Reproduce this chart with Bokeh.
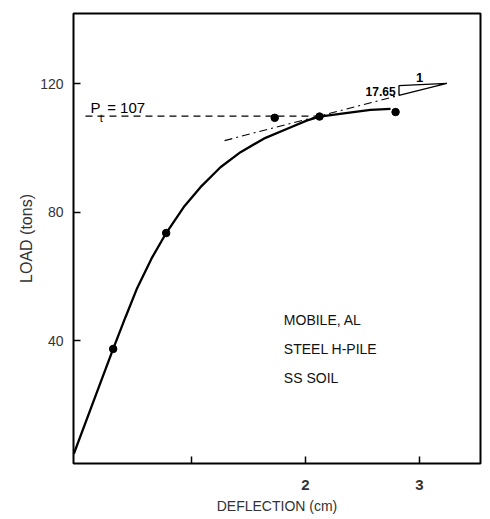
from bokeh.plotting import figure
from bokeh.models import Range1d, FixedTicker, ColumnDataSource
from bokeh.core.properties import value
from bokeh.embed import file_html
from bokeh.resources import INLINE

# measured load test points (deflection cm, load tons)
test_defl = [0.313, 0.778, 1.73, 2.123, 2.79]
test_load = [37.4, 73.5, 109.4, 109.8, 111.2]

# hand-drawn fitted curve
curve_defl = [-0.032, 0.187, 0.313, 0.42, 0.524, 0.65, 0.778, 0.932, 1.079,
              1.254, 1.43, 1.634, 1.84, 2.015, 2.123, 2.336, 2.57, 2.746]
curve_load = [4.7, 25.5, 37.4, 47.2, 56.4, 65.6, 73.5, 81.6, 87.8,
              94.0, 98.7, 102.9, 106.0, 108.6, 109.8, 110.8, 111.9, 112.2]

# Pt level line (as drawn)
pt_defl = [0.07, 2.15]
pt_load = [109.9, 109.9]

# tangent line (dash-dot) and slope triangle
tangent_defl = [1.29, 2.82]
tangent_load = [102.3, 116.4]
tri_defl = [2.82, 2.82, 3.24, 2.82]
tri_load = [116.4, 119.4, 120.1, 116.4]

y_ticks = [40, 80, 120]
x_ticks = [1, 2, 3]
x_tick_labels = {1: "", 2: "2", 3: "3"}

site_lines = ["MOBILE, AL", "STEEL H-PILE", "SS SOIL"]
site_load = [46.5, 37.5, 28.2]

FONT = "Liberation Sans"

p = figure(width=490, height=519, output_backend="svg", toolbar_location=None,
           x_range=Range1d(-0.035, 3.535), y_range=Range1d(1.7, 141.9),
           min_border_left=73, min_border_right=10, min_border_top=13,
           min_border_bottom=56)
p.background_fill_color = "white"
p.border_fill_color = "white"
p.outline_line_color = "black"
p.outline_line_width = 2
p.xgrid.grid_line_color = None
p.ygrid.grid_line_color = None

for ax in (p.xaxis[0], p.yaxis[0]):
    ax.axis_line_color = None
    ax.major_tick_in = 7
    ax.major_tick_out = 0
    ax.major_tick_line_color = "black"
    ax.major_tick_line_width = 1.5
    ax.minor_tick_line_color = None
    ax.major_label_text_font = FONT
    ax.major_label_text_font_size = "14px"
    ax.major_label_text_color = "#333333"
    ax.axis_label_text_font = FONT
    ax.axis_label_text_font_style = "normal"
    ax.axis_label_text_color = "#333333"

p.xaxis.ticker = FixedTicker(ticks=x_ticks)
p.xaxis.major_label_overrides = x_tick_labels
p.xaxis.major_label_standoff = 16
p.xaxis.major_label_text_font_size = "15px"
p.xaxis.axis_label = "DEFLECTION (cm)"
p.xaxis.axis_label_text_font_size = "14px"
p.xaxis.axis_label_standoff = 5
p.xaxis.major_label_text_font_style = "bold"

p.yaxis.ticker = FixedTicker(ticks=y_ticks)
p.yaxis.major_label_standoff = 10
p.yaxis.axis_label = "LOAD (tons)"
p.yaxis.axis_label_text_font_size = "16px"
p.yaxis.axis_label_standoff = 2

# Pt dashed line
p.line(pt_defl, pt_load, line_color="black", line_width=1.3, line_dash="7 5")
# tangent dash-dot
p.line(tangent_defl, tangent_load, line_color="black", line_width=1.1,
       line_dash="8 4 2 4")
# slope triangle
p.line(tri_defl, tri_load, line_color="black", line_width=1.3)
# fitted curve
p.line(curve_defl, curve_load, line_color="black", line_width=2.3)
# test points
p.scatter(test_defl, test_load, size=7.5, fill_color="black", line_color="black")

# labels
p.text(x=[0.115], y=[112.5], text=["P"], text_font=value(FONT),
       text_font_size="15px", text_baseline="alphabetic", text_align="left")
p.text(x=[0.195], y=[109.4], text=["t"], text_font=value(FONT),
       text_font_size="11px", text_baseline="alphabetic", text_align="left")
p.text(x=[0.26], y=[112.5], text=["= 107"], text_font=value(FONT),
       text_font_size="15px", text_baseline="alphabetic", text_align="left")
p.text(x=[2.79], y=[117.6], text=["17.65"], text_font=value(FONT),
       text_font_size="12px", text_font_style="bold",
       text_baseline="alphabetic", text_align="right")
p.text(x=[3.0], y=[122.0], text=["1"], text_font=value(FONT),
       text_font_size="13px", text_font_style="bold",
       text_baseline="alphabetic", text_align="center")

src = ColumnDataSource(dict(x=[1.81] * len(site_lines), y=site_load, t=site_lines))
p.text(x="x", y="y", text="t", source=src, text_font=value(FONT),
       text_font_size="14px", text_baseline="alphabetic", text_align="left",
       text_color="#111111")

open("out.html", "w").write(file_html(p, INLINE))
